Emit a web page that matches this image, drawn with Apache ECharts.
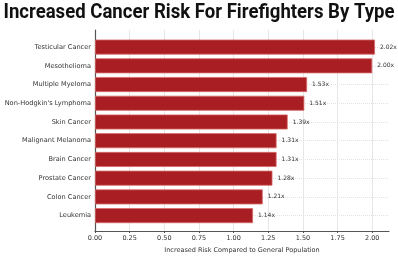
<!DOCTYPE html>
<html>
<head>
<meta charset="utf-8">
<script src="https://cdn.jsdelivr.net/npm/echarts@6/dist/echarts.min.js"></script>
<style>
  html, body { margin: 0; padding: 0; background: #fff; }
  #chart { width: 398px; height: 257px; }
</style>
</head>
<body>
<div id="chart"></div>
<script>
// data, bottom to top as matplotlib draws it
var cancerTypes = ['Leukemia', 'Colon Cancer', 'Prostate Cancer', 'Brain Cancer', 'Malignant Melanoma',
  'Skin Cancer', "Non-Hodgkin's Lymphoma", 'Multiple Myeloma', 'Mesothelioma', 'Testicular Cancer'];
var riskValues = [1.14, 1.21, 1.28, 1.31, 1.31, 1.39, 1.51, 1.53, 2.00, 2.02];
var xTicks = [0, 0.25, 0.5, 0.75, 1.0, 1.25, 1.5, 1.75, 2.0];

var titleText = 'Increased Cancer Risk For Firefighters By Type';
var titleFont = 'bold 21px Roboto';

var chart = echarts.init(document.getElementById('chart'));

// squeeze the title so it spans the width like a condensed face
var ctx = document.createElement('canvas').getContext('2d');
ctx.font = titleFont;
var titleScale = 391 / ctx.measureText(titleText).width;

var gridColors = xTicks.map(function () { return '#e6e6e6'; });
gridColors.push('rgba(0,0,0,0)'); // no line at the axis max

var xMax = 2.121;

chart.setOption({
  animation: false,
  graphic: [{
    type: 'text',
    x: 199,
    y: 2,
    scaleX: titleScale,
    style: {
      text: titleText,
      font: titleFont,
      fill: '#111',
      textAlign: 'center',
      textVerticalAlign: 'top'
    }
  }],
  grid: [
    { left: 95, right: 9, top: 30, bottom: 26, outerBoundsMode: 'none' },
    { left: 95, right: 9, top: 37.7, bottom: 32, outerBoundsMode: 'none' }
  ],
  xAxis: [{
    type: 'value',
    gridIndex: 0,
    min: 0,
    max: xMax,
    interval: 0.25,
    name: 'Increased Risk Compared to General Population',
    nameLocation: 'middle',
    nameGap: 12,
    nameTextStyle: { fontFamily: 'DejaVu Sans', fontSize: 6.5, color: '#333' },
    axisLine: { show: true, lineStyle: { color: '#555', width: 1.2 } },
    axisTick: { show: true, length: 2, lineStyle: { color: '#555' } },
    axisLabel: {
      fontFamily: 'DejaVu Sans',
      fontSize: 6.5,
      color: '#333',
      margin: 4,
      showMaxLabel: false,
      formatter: function (v) { return v.toFixed(2); }
    },
    splitLine: { show: true, lineStyle: { color: gridColors, width: 1 } }
  }, {
    type: 'value',
    gridIndex: 1,
    min: 0,
    max: xMax,
    show: false,
    splitLine: { show: false }
  }],
  yAxis: [{
    type: 'value',
    gridIndex: 0,
    min: 0,
    max: 1,
    axisLine: { show: true, lineStyle: { color: '#555', width: 1.2 } },
    axisTick: { show: false },
    axisLabel: { show: false },
    splitLine: { show: false }
  }, {
    type: 'category',
    gridIndex: 1,
    data: cancerTypes,
    axisLine: { show: false },
    axisTick: { show: false },
    axisLabel: {
      fontFamily: 'DejaVu Sans',
      fontSize: 6.6,
      color: '#333',
      margin: 4
    },
    splitLine: {
      show: true,
      alignWithLabel: true,
      lineStyle: { color: '#e2e2e2', type: 'dotted', width: 1 }
    }
  }],
  series: [{
    type: 'bar',
    xAxisIndex: 1,
    yAxisIndex: 1,
    data: riskValues,
    barWidth: 15,
    itemStyle: {
      color: '#a81e22',
      borderColor: '#d86a6a',
      borderWidth: 0.8
    },
    label: {
      show: true,
      position: 'right',
      distance: 5,
      fontFamily: 'DejaVu Sans',
      fontSize: 6,
      color: '#333',
      formatter: function (p) { return p.value.toFixed(2) + 'x'; }
    }
  }]
});
</script>
</body>
</html>
